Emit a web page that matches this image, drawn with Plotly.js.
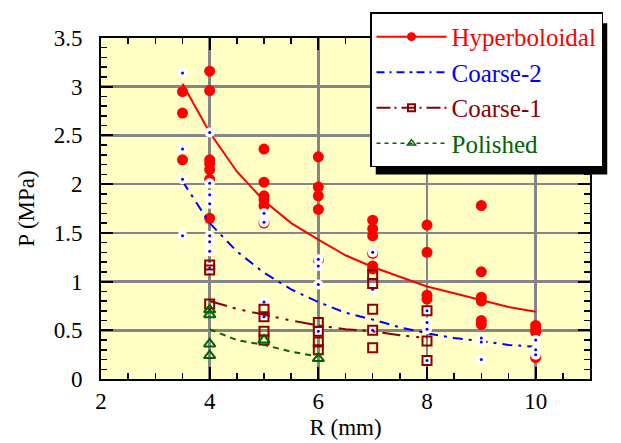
<!DOCTYPE html>
<html>
<head>
<meta charset="utf-8">
<script src="https://cdn.plot.ly/plotly-3.0.1.min.js"></script>
<style>html,body{margin:0;padding:0;background:#fff;}#chart{width:621px;height:443px;}</style>
</head>
<body>
<div id="chart"></div>
<script>
// ---- Hyperboloidal (red) ----
const hypX = [3.5,3.5,3.5, 4,4,4,4,4,4,4, 5,5,5,5,5,5, 6,6,6,6,6, 7,7,7,7,7,7, 8,8,8,8, 9,9,9,9,9,9, 10,10,10,10];
const hypY = [2.95,2.73,2.25, 3.16,2.96,2.25,2.21,2.15,2.05,1.65, 2.36,2.02,1.88,1.84,1.78,1.60, 2.28,1.97,1.88,1.74,1.22, 1.63,1.54,1.47,1.29,1.16,1.13, 1.58,1.30,0.86,0.82, 1.78,1.10,0.84,0.80,0.60,0.56, 0.55,0.51,0.48,0.22];
const hypFitX = [3.5,4,4.5,5,5.5,6,6.5,7,7.5,8,8.5,9,9.5,10];
const hypFitY = [3.03,2.53,2.13,1.83,1.60,1.43,1.27,1.15,1.05,0.95,0.88,0.81,0.74,0.69];

// ---- Coarse-2 (blue) ----
const c2X = [3.5,3.5,3.5,3.5, 4,4,4,4,4,4,4,4, 5,5,5,5, 6,6,6,6, 7,7,7, 8,8,8,8, 9,9,9, 10,10,10];
const c2Y = [3.14,2.36,2.05,1.47, 2.53,2.01,1.89,1.80,1.47,1.41,1.31,1.14, 1.70,1.61,0.79,0.64, 1.23,1.16,0.97,0.49, 1.30,0.92,0.50, 0.70,0.58,0.51,0.19, 0.42,0.38,0.20, 0.40,0.30,0.25];
const c2FitX = [3.5,4,4.5,5,5.5,6,6.5,7,7.5,8,8.5,9,9.5,10];
const c2FitY = [2.03,1.60,1.31,1.09,0.92,0.79,0.68,0.61,0.53,0.47,0.42,0.39,0.35,0.33];

// ---- Coarse-1 (dark red) ----
const c1X = [4,4,4, 5,5,5,5, 6,6,6,6, 7,7,7,7,7, 8,8,8];
const c1Y = [1.17,1.12,0.77, 0.715,0.64,0.49,0.40, 0.58,0.49,0.38,0.30, 1.07,0.98,0.715,0.50,0.32, 0.70,0.39,0.19];
const c1FitX = [4,4.5,5,5.5,6,6.5,7,7.5,8];
const c1FitY = [0.80,0.72,0.66,0.60,0.55,0.51,0.49,0.45,0.42];

// ---- Polished (green) ----
const polX = [4,4,4,4, 5, 6];
const polY = [0.71,0.66,0.36,0.24, 0.40, 0.21];
const polFitX = [4,4.5,5,5.5,6];
const polFitY = [0.51,0.40,0.35,0.28,0.23];

const names = ['Hyperboloidal','Coarse-2','Coarse-1','Polished'];
const colRed = '#FF0000', colBlue = '#0000FF', colBrown = '#8B0000', colGreen = '#006400';
const dashBlue = '10px,6px,3px,6px';
const dashBrown = '18px,6px,3px,7px,3px,7px';
const dashGreen = '6px,5px';

const serif = 'Liberation Serif';

const traces = [
  {x: hypFitX, y: hypFitY, mode: 'lines', line: {color: colRed, width: 2}, showlegend: false, hoverinfo: 'skip'},
  {x: hypX, y: hypY, mode: 'markers', marker: {color: colRed, size: 11, symbol: 'circle'}, showlegend: false},
  {x: c2FitX, y: c2FitY, mode: 'lines', line: {color: colBlue, width: 2, dash: dashBlue}, showlegend: false, hoverinfo: 'skip'},
  {x: c2X, y: c2Y, mode: 'markers', marker: {color: '#FFFFFF', size: 10, symbol: 'circle'}, showlegend: false},
  {x: c2X, y: c2Y, mode: 'markers', marker: {color: colBlue, size: 3, symbol: 'circle'}, showlegend: false},
  {x: c1FitX, y: c1FitY, mode: 'lines', line: {color: colBrown, width: 2, dash: dashBrown}, showlegend: false, hoverinfo: 'skip'},
  {x: c1X, y: c1Y, mode: 'markers', marker: {color: colBrown, size: 9, symbol: 'square-open', line: {width: 2, color: colBrown}}, showlegend: false},
  {x: polFitX, y: polFitY, mode: 'lines', line: {color: colGreen, width: 2, dash: dashGreen}, showlegend: false, hoverinfo: 'skip'},
  {x: polX, y: polY, mode: 'markers', marker: {color: colGreen, size: 10, symbol: 'triangle-up-open', line: {width: 2, color: colGreen}}, showlegend: false},
  // legend entries
  {x: [null], y: [null], mode: 'lines+markers', name: '<span style="color:' + colRed + '">' + names[0] + '</span>', legendgroup: 'a',
   line: {color: colRed, width: 2}, marker: {color: colRed, size: 9, symbol: 'circle'}},
  {x: [null], y: [null], mode: 'lines+markers', name: '<span style="color:' + colBlue + '">' + names[1] + '</span>', legendgroup: 'b',
   line: {color: colBlue, width: 2, dash: '8px,5px,2px,5px'}, marker: {color: colBlue, size: 2, symbol: 'circle'}},
  {x: [null], y: [null], mode: 'lines+markers', name: '<span style="color:' + colBrown + '">' + names[2] + '</span>', legendgroup: 'c',
   line: {color: colBrown, width: 2, dash: '14px,4px,2px,5px'}, marker: {color: colBrown, size: 7, symbol: 'square-open', line: {width: 2, color: colBrown}}},
  {x: [null], y: [null], mode: 'lines+markers', name: '<span style="color:' + colGreen + '">' + names[3] + '</span>', legendgroup: 'd',
   line: {color: colGreen, width: 1.5, dash: '4px,4px'}, marker: {color: colGreen, size: 7, symbol: 'triangle-up-open', line: {width: 1.5, color: colGreen}}}
];

const axisCommon = {
  ticks: 'inside', ticklen: 12, tickwidth: 2, tickcolor: '#000',
  showline: true, linewidth: 2, linecolor: '#000', mirror: 'ticks',
  showgrid: true, gridcolor: '#858585', gridwidth: 2.5,
  zeroline: false,
  tickfont: {family: serif, size: 23, color: '#000'}
};

const plotL = 101, plotT = 33, plotW = 489, plotH = 346;
const px2fx = p => (p - plotL) / plotW;
const px2fy = p => (plotT + plotH - p) / plotH;

const layout = {
  width: 621, height: 443,
  margin: {l: 101, r: 31, t: 33, b: 64},
  paper_bgcolor: '#FFFFFF',
  plot_bgcolor: '#FFFFC6',
  font: {family: serif, color: '#000'},
  xaxis: Object.assign({}, axisCommon, {
    range: [2, 11], tick0: 2, dtick: 2, ticklabelstandoff: 0,
    minor: {dtick: 0.5, ticks: 'inside', ticklen: 6, tickwidth: 1.5, tickcolor: '#000', showgrid: false},
    title: {text: 'R (mm)', font: {family: serif, size: 23, color: '#000'}, standoff: 6}
  }),
  yaxis: Object.assign({}, axisCommon, {
    range: [0, 3.5], tick0: 0, dtick: 0.5, ticklabelstandoff: 12,
    minor: {dtick: 0.1, ticks: 'inside', ticklen: 6, tickwidth: 1.5, tickcolor: '#000', showgrid: false},
    title: {text: 'P (MPa)', font: {family: serif, size: 23, color: '#000'}, standoff: 13}
  }),
  legend: {
    x: px2fx(370), y: px2fy(7), xanchor: 'left', yanchor: 'top',
    bgcolor: '#FFFFFF', bordercolor: '#000', borderwidth: 1.5,
    font: {family: serif, size: 25, color: '#000'},
    itemwidth: 70,
    traceorder: 'grouped', tracegroupgap: 0
  },
  showlegend: true
};

Plotly.newPlot('chart', traces, layout, {displayModeBar: false, staticPlot: true}).then(gd => {
  // drop shadow behind the legend box, sized from the rendered legend
  const lg = gd.querySelector('.legend .bg');
  const host = gd.getBoundingClientRect();
  if (!lg) return;
  const r = lg.getBoundingClientRect();
  const off = 5;
  const l = r.left - host.left, t = r.top - host.top;
  return Plotly.relayout(gd, {shapes: [{
    type: 'rect', xref: 'paper', yref: 'paper', layer: 'above',
    x0: px2fx(l + off), x1: px2fx(l + r.width + off),
    y0: px2fy(t + r.height + off), y1: px2fy(t + off),
    fillcolor: '#000', line: {width: 0}
  }]});
});
</script>
</body>
</html>
